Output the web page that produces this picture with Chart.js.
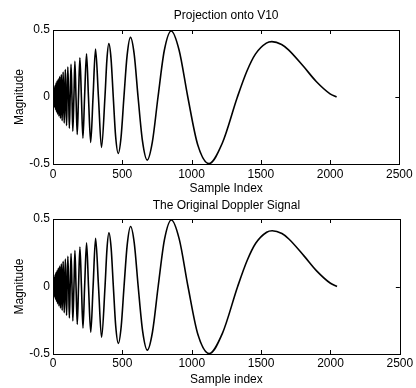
<!DOCTYPE html>
<html>
<head>
<meta charset="utf-8">
<script src="https://cdn.jsdelivr.net/npm/chart.js@4"></script>
<style>
  html, body { margin: 0; padding: 0; background: #fff; overflow: hidden; }
  body { width: 416px; height: 388px; position: relative; }
  canvas { position: absolute; left: 0; }
  #topChart { top: 0; }
  #bottomChart { top: 188px; }
</style>
</head>
<body>
<canvas id="topChart" width="416" height="198"></canvas>
<canvas id="bottomChart" width="416" height="200"></canvas>
<script>
// Doppler signal: zero crossings, extrema and a few in-between points
const sampleIdx = [
  0, 1, 2.5, 4, 5, 6.5, 8, 9.3, 11, 12.3, 14, 15.4, 17, 19, 20.5, 22, 24, 26, 28, 30,
  32, 34, 36, 38.6, 41, 43, 46, 48.5, 51, 54, 57, 60, 63, 66, 70, 73, 77, 81, 85, 89,
  93, 98, 102, 107, 113, 118, 124, 130, 137, 143, 151, 158, 166, 175, 184, 194, 205, 216, 228, 242,
  256, 272, 289, 307, 328, 350, 375, 389, 403, 419, 435, 452, 471, 491, 512, 535, 559, 586, 614, 646,
  680, 717, 758, 803, 853, 910, 973, 1044, 1126, 1221, 1331, 1400, 1461, 1540, 1580, 1650, 1700, 1809, 1900, 2000,
  2047
];
const originalSignal = [
  0, -0.025, 0, 0.043, 0, -0.056, 0, 0.067, 0, -0.077, 0, 0.086, 0, -0.095, 0, 0.104, 0, -0.112, 0, 0.12,
  0, -0.128, 0, 0.136, 0, -0.144, 0, 0.152, 0, -0.16, 0, 0.168, 0, -0.177, 0, 0.186, 0, -0.194, 0, 0.204,
  0, -0.213, 0, 0.223, 0, -0.233, 0, 0.244, 0, -0.255, 0, 0.267, 0, -0.28, 0, 0.293, 0, -0.307, 0, 0.323,
  0, -0.339, 0, 0.357, 0, -0.376, 0, 0.277, 0.398, 0.285, 0, -0.293, -0.421, -0.302, 0, 0.31, 0.445, 0.32, 0, -0.33,
  -0.471, -0.337, 0, 0.345, 0.493, 0.351, 0, -0.354, -0.497, -0.347, 0, 0.194, 0.32, 0.402, 0.413, 0.392, 0.352, 0.227, 0.116, 0.024,
  0
];
// the projection onto V10 looks the same as the original at this size
const projectionV10 = [
  0, -0.025, 0, 0.043, 0, -0.056, 0, 0.067, 0, -0.077, 0, 0.086, 0, -0.095, 0, 0.104, 0, -0.112, 0, 0.12,
  0, -0.128, 0, 0.136, 0, -0.144, 0, 0.152, 0, -0.16, 0, 0.168, 0, -0.177, 0, 0.186, 0, -0.194, 0, 0.204,
  0, -0.213, 0, 0.223, 0, -0.233, 0, 0.244, 0, -0.255, 0, 0.267, 0, -0.28, 0, 0.293, 0, -0.307, 0, 0.323,
  0, -0.339, 0, 0.357, 0, -0.376, 0, 0.277, 0.398, 0.285, 0, -0.293, -0.421, -0.302, 0, 0.31, 0.445, 0.32, 0, -0.33,
  -0.471, -0.337, 0, 0.345, 0.493, 0.351, 0, -0.354, -0.497, -0.347, 0, 0.194, 0.32, 0.402, 0.413, 0.392, 0.352, 0.227, 0.116, 0.024,
  0
];
const xTicks = [0, 500, 1000, 1500, 2000, 2500];
const yTicks = [-0.5, 0, 0.5];

const FONT = "'Liberation Sans', Arial, sans-serif";

// box round the axes with ticks pointing inwards (matlab style)
const boxPlugin = {
  id: "box",
  afterDraw(chart) {
    const { ctx, chartArea: a, scales } = chart;
    const x = scales.x, y = scales.y;
    ctx.save();
    ctx.strokeStyle = "#000";
    ctx.lineWidth = 1;
    ctx.strokeRect(Math.round(a.left) + 0.5, Math.round(a.top) + 0.5, Math.round(a.width), Math.round(a.height));
    ctx.beginPath();
    x.ticks.forEach((t) => {
      const px = Math.round(x.getPixelForValue(t.value)) + 0.5;
      ctx.moveTo(px, a.bottom); ctx.lineTo(px, a.bottom - 4);
      ctx.moveTo(px, a.top); ctx.lineTo(px, a.top + 4);
    });
    y.ticks.forEach((t) => {
      const py = Math.round(y.getPixelForValue(t.value)) + 0.5;
      ctx.moveTo(a.left, py); ctx.lineTo(a.left + 4, py);
      ctx.moveTo(a.right, py); ctx.lineTo(a.right - 4, py);
    });
    ctx.stroke();
    ctx.restore();
  },
};

function makeChart(id, title, values, t) {
  const points = sampleIdx.map((s, i) => ({ x: s, y: values[i] }));
  return new Chart(document.getElementById(id), {
    type: "line",
    data: {
      datasets: [
        {
          data: points,
          borderColor: "#000",
          borderWidth: 1.6,
          pointRadius: 0,
          cubicInterpolationMode: "monotone",
          fill: false,
        },
      ],
    },
    options: {
      responsive: false,
      animation: false,
      devicePixelRatio: 1,
      layout: { padding: { left: 0, right: 14, top: 0, bottom: 0 } },
      plugins: {
        legend: { display: false },
        tooltip: { enabled: false },
        title: {
          display: true,
          text: title,
          fullSize: false,
          color: "#000",
          font: { family: FONT, size: 12, weight: "normal", lineHeight: 1.2 },
          padding: { top: t.titleTop, bottom: t.titleBottom },
        },
      },
      scales: {
        x: {
          type: "linear",
          min: 0,
          max: 2500,
          afterBuildTicks: (s) => { s.ticks = xTicks.map((v) => ({ value: v })); },
          afterFit: (s) => { s.height = t.xHeight; },
          grid: { display: false, drawTicks: false },
          border: { display: false },
          ticks: {
            color: "#000",
            padding: t.xTickPad,
            maxRotation: 0,
            font: { family: FONT, size: 12, lineHeight: 1.2 },
            callback: (v) => String(v),
          },
          title: {
            display: true,
            text: t.xTitle,
            color: "#000",
            font: { family: FONT, size: 12, lineHeight: 1.2 },
            padding: { top: 0, bottom: t.xTitleBottom },
          },
        },
        y: {
          type: "linear",
          min: -0.5,
          max: 0.5,
          afterBuildTicks: (s) => { s.ticks = yTicks.map((v) => ({ value: v })); },
          afterFit: (s) => { s.width = 53; },
          grid: { display: false, drawTicks: false },
          border: { display: false },
          ticks: {
            color: "#000",
            padding: 3,
            font: { family: FONT, size: 12, lineHeight: 1.2 },
            callback: (v) => String(v),
          },
          title: {
            display: true,
            text: "Magnitude",
            color: "#000",
            font: { family: FONT, size: 12, lineHeight: 1.2 },
            padding: { top: 12.8, bottom: 0 },
          },
        },
      },
    },
    plugins: [boxPlugin],
  });
}

makeChart("topChart", "Projection onto V10", projectionV10, {
  titleTop: 8.8, titleBottom: 6.8, xHeight: 34, xTickPad: 3.3, xTitleBottom: 1.8, xTitle: "Sample Index",
});
makeChart("bottomChart", "The Original Doppler Signal", originalSignal, {
  titleTop: 10.8, titleBottom: 5.8, xHeight: 34, xTickPad: 2.8, xTitleBottom: 0.8, xTitle: "Sample index",
});
</script>
</body>
</html>
